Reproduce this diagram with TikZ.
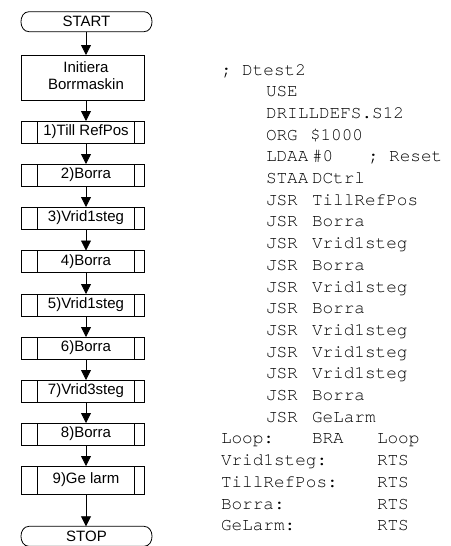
\documentclass[tikz,border=0pt]{standalone}
\usepackage{fontspec}
\setmainfont{Liberation Sans}
\newfontfamily\codefont{TeX Gyre Cursor}
\usetikzlibrary{arrows.meta}
\begin{document}
\begin{tikzpicture}[x=1pt,y=-1pt,
  every node/.style={inner sep=0pt, outer sep=0pt},
  lbl/.style={font=\fontsize{15}{17}\selectfont},
  box/.style={lbl, draw, line width=0.8pt, minimum width=97pt, minimum height=22pt},
  term/.style={lbl, minimum width=131pt, minimum height=20pt},
  termline/.style={line width=0.8pt},
  flow/.style={line width=0.8pt, -{Triangle[length=10pt,width=10pt]}},
  code/.style={anchor=base west, font=\codefont\fontsize{17.7}{21}\selectfont},
]
\useasboundingbox (0,0) rectangle (450,546);
% flowchart
\node[term] (start) at (86.5,21.7) {START};
\node[lbl, draw, line width=0.8pt, minimum width=123pt, minimum height=45pt] (init) at (82.5,77.5)
  {\hspace*{7pt}\begin{tabular}{@{}c@{}}Initiera\\Borrmaskin\end{tabular}};
\node[box] (p1) at (86,132) {1)Till RefPos};
\node[box] (p2) at (86,175) {2)Borra};
\node[box] (p3) at (86,218) {3)Vrid1steg};
\node[box] (p4) at (86,261.5) {4)Borra};
\node[box] (p5) at (86,305) {5)Vrid1steg};
\node[box] (p6) at (86,348) {6)Borra};
\node[box] (p7) at (86,391) {7)Vrid3steg};
\node[box] (p8) at (86,434) {8)Borra};
\node[box, minimum height=28pt] (p9) at (86,480) {9)Ge larm};
\node[term] (stop) at (86.5,536.3) {STOP};
\foreach \t in {start,stop}
  \draw[termline] ([xshift=8pt]\t.north west) -- ([xshift=-8pt]\t.north east)
    .. controls ([xshift=2.7pt]\t.north east) and ([xshift=2.7pt]\t.south east) .. ([xshift=-8pt]\t.south east)
    -- ([xshift=8pt]\t.south west)
    .. controls ([xshift=-2.7pt]\t.south west) and ([xshift=-2.7pt]\t.north west) .. cycle;
\foreach \n in {p1,p2,p3,p4,p5,p6,p7,p8,p9}
  \draw[line width=0.8pt] ([xshift=-16.5pt]\n.north west) rectangle ([xshift=10pt]\n.south east);
\draw[flow] (p1 |- start.south) -- (p1 |- init.north);
\draw[flow] (p1 |- init.south) -- (p1.north);
\draw[flow] (p1.south) -- (p2.north);
\draw[flow] (p2.south) -- (p3.north);
\draw[flow] (p3.south) -- (p4.north);
\draw[flow] (p4.south) -- (p5.north);
\draw[flow] (p5.south) -- (p6.north);
\draw[flow] (p6.south) -- (p7.north);
\draw[flow] (p7.south) -- (p8.north);
\draw[flow] (p8.south) -- (p9.north);
\draw[flow] (p9.south) -- (p9.south |- stop.north);
% code listing
\node[code] (c0) at (221,75) {; Dtest2};
\node[code] (c1) at (266,96.7) {USE};
\node[code] (c2) at (266,118.4) {DRILLDEFS.S12};
\node[code] (c3) at (266,140.1) {ORG};
\node[code] (a3) at (310,140.1) {\$1000};
\node[code] (c4) at (266,161.8) {LDAA};
\node[code] (a4) at (312,161.8) {\#0};
\node[code] (r4) at (368,161.8) {; Reset};
\node[code] (c5) at (266,183.5) {STAA};
\node[code] (a5) at (312,183.5) {DCtrl};
\foreach \i/\a in {6/TillRefPos,7/Borra,8/Vrid1steg,9/Borra,10/Vrid1steg,11/Borra,12/Vrid1steg,13/Vrid1steg,14/Vrid1steg,15/Borra,16/GeLarm}{
  \node[code] (c\i) at (266,{75+21.7*\i}) {JSR};
  \node[code] (a\i) at (312,{75+21.7*\i}) {\a};
}
\node[code] (c17) at (221,443.9) {Loop:};
\node[code] (b17) at (312,443.9) {BRA};
\node[code] (a17) at (377,443.9) {Loop};
\foreach \i/\l in {18/Vrid1steg:,19/TillRefPos:,20/Borra:,21/GeLarm:}{
  \node[code] (c\i) at (221,{75+21.7*\i}) {\l};
  \node[code] (a\i) at (377,{75+21.7*\i}) {RTS};
}
\end{tikzpicture}
\end{document}
